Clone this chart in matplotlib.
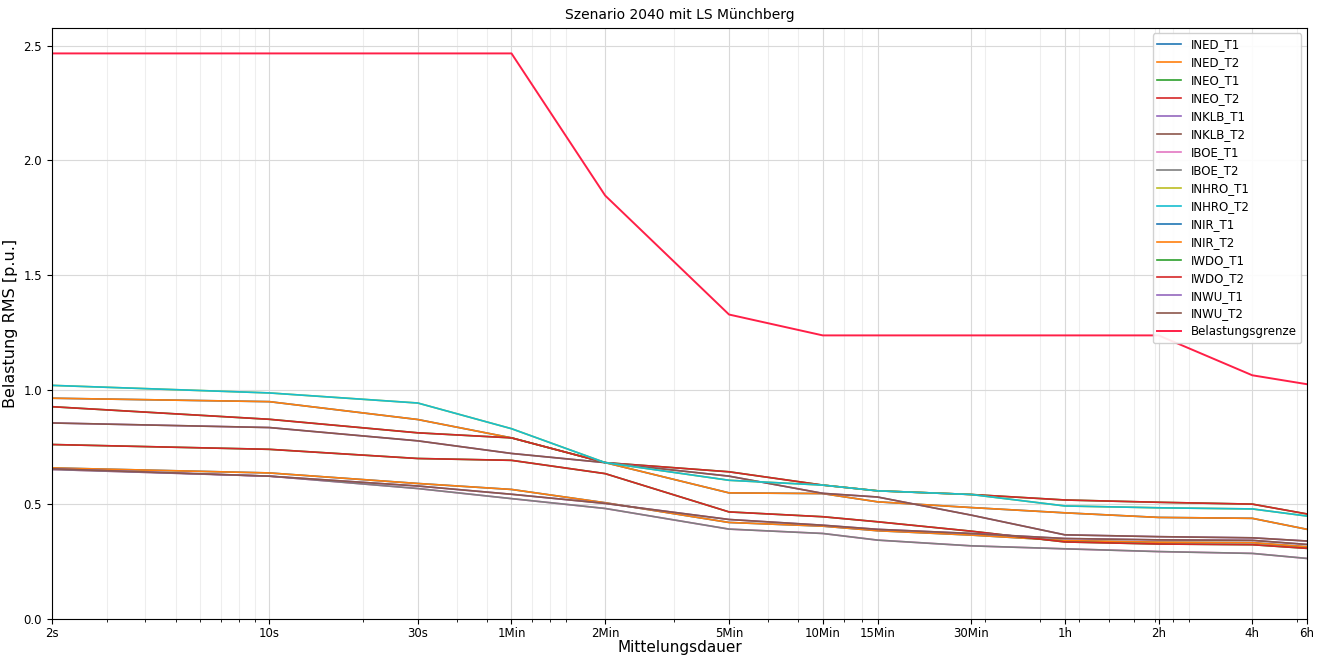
import matplotlib

matplotlib.use("Agg")
import matplotlib.pyplot as plt

# Mittelungsdauer in Sekunden und Beschriftung
dauer_s = [2, 10, 30, 60, 120, 300, 600, 900, 1800, 3600, 7200, 14400, 21600]
dauer_label = ["2s", "10s", "30s", "1Min", "2Min", "5Min", "10Min", "15Min",
               "30Min", "1h", "2h", "4h", "6h"]

# Belastung je Station (T1 und T2 parallel, gleiche Werte)
ined = [0.963, 0.948, 0.870, 0.790, 0.682, 0.550, 0.547, 0.511, 0.486, 0.463, 0.443, 0.439, 0.391]
ineo = [0.926, 0.871, 0.812, 0.790, 0.682, 0.642, 0.584, 0.559, 0.543, 0.519, 0.509, 0.501, 0.458]
inklb = [0.855, 0.835, 0.777, 0.722, 0.682, 0.623, 0.548, 0.532, 0.453, 0.367, 0.359, 0.354, 0.340]
iboe = [0.652, 0.623, 0.569, 0.525, 0.482, 0.392, 0.373, 0.344, 0.319, 0.306, 0.294, 0.286, 0.264]
inhro = [1.019, 0.986, 0.942, 0.830, 0.682, 0.605, 0.584, 0.559, 0.543, 0.493, 0.485, 0.480, 0.449]
inir = [0.659, 0.637, 0.591, 0.565, 0.507, 0.421, 0.405, 0.385, 0.366, 0.342, 0.335, 0.333, 0.315]
iwdo = [0.761, 0.740, 0.700, 0.692, 0.634, 0.467, 0.446, 0.424, 0.383, 0.336, 0.327, 0.324, 0.308]
inwu = [0.655, 0.623, 0.580, 0.544, 0.504, 0.434, 0.409, 0.391, 0.373, 0.351, 0.345, 0.343, 0.325]

stationen = ["INED", "INEO", "INKLB", "IBOE", "INHRO", "INIR", "IWDO", "INWU"]
werte = [ined, ineo, inklb, iboe, inhro, inir, iwdo, inwu]

grenze = [2.467, 2.467, 2.467, 2.467, 1.847, 1.328, 1.237, 1.237, 1.237, 1.237, 1.237, 1.063, 1.024]

fig, ax = plt.subplots(figsize=(13.27, 6.55), dpi=100)
fig.subplots_adjust(left=0.039, right=0.985, top=0.958, bottom=0.055)

for name, w in zip(stationen, werte):
    ax.plot(dauer_s, w, lw=1.2, label=name + "_T1")
    ax.plot(dauer_s, w, lw=1.2, label=name + "_T2")

ax.plot(dauer_s, grenze, color="#ff1f47", lw=1.4, label="Belastungsgrenze")

ax.set_xscale("log")
ax.set_xticks(dauer_s)
ax.set_xticklabels(dauer_label)
ax.set_xlim(dauer_s[0], dauer_s[-1])
ax.set_ylim(0, 2.58)
ax.set_yticks([0.0, 0.5, 1.0, 1.5, 2.0, 2.5])
ax.tick_params(labelsize=8.5)
ax.tick_params(axis="x", pad=2)

ax.grid(which="major", color="#d9d9d9", lw=0.8)
ax.grid(which="minor", axis="x", color="#eeeeee", lw=0.8)

ax.set_title("Szenario 2040 mit LS Münchberg", fontsize=10)
ax.set_xlabel("Mittelungsdauer", fontsize=11, labelpad=0)
ax.set_ylabel("Belastung RMS [p.u.]", fontsize=11.5)

ax.legend(loc="upper right", fontsize=8.5, labelspacing=0.42, framealpha=0.9)

fig.savefig("out.png")
